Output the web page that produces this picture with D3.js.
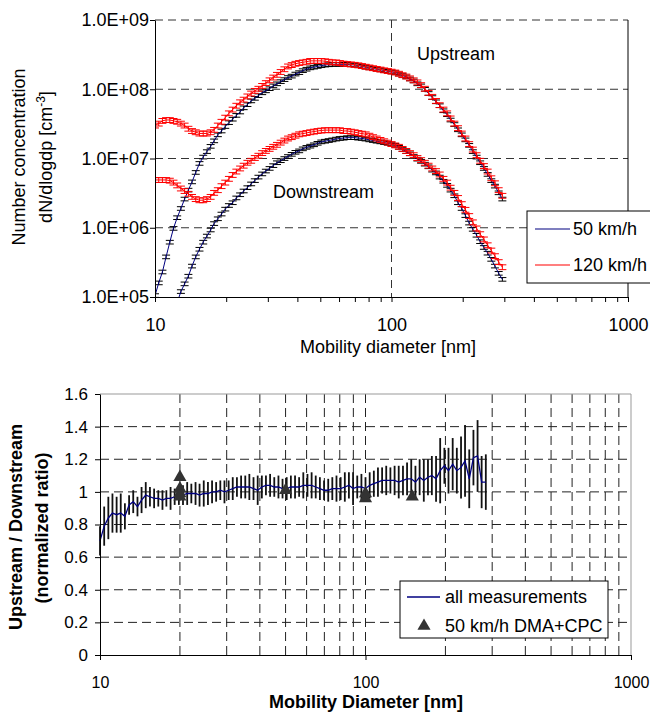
<!DOCTYPE html>
<html>
<head>
<meta charset="utf-8">
<script src="https://cdn.jsdelivr.net/npm/d3@7"></script>
<style>
  body { margin: 0; background: #fff; }
  svg { display: block; }
</style>
</head>
<body>
<div id="chart"></div>
<script>
// mobility diameters [nm], 64 channels per decade
var diameters = [
  10.0, 10.37, 10.75, 11.14, 11.55, 11.97, 12.41, 12.87, 13.34, 13.84,
  14.34, 14.87, 15.42, 15.99, 16.58, 17.19, 17.78, 18.44, 19.11, 19.82,
  20.54, 21.3, 22.08, 22.9, 23.71, 24.59, 25.5, 26.43, 27.38, 28.39,
  29.43, 30.52, 31.62, 32.79, 34.0, 35.25, 36.52, 37.86, 39.26, 40.7,
  42.17, 43.72, 45.33, 47.0, 48.7, 50.49, 52.35, 54.28, 56.23, 58.31,
  60.45, 62.67, 64.94, 67.33, 69.81, 72.38, 74.99, 77.75, 80.61, 83.58,
  86.6, 89.78, 93.09, 96.52, 100.0, 103.7, 107.5, 111.4, 115.5, 119.7,
  124.1, 128.7, 133.4, 138.4, 143.4, 148.7, 154.2, 159.9, 165.8, 171.9,
  177.8, 184.4, 191.1, 198.2, 205.4, 213.0, 220.8, 229.0, 237.1, 245.9,
  255.0, 264.3, 273.8, 283.9, 294.3
]

// dN/dlogdp [cm-3]
var up50 = [
  1.05e5, 1.6e5, 2.3e5, 3.8e5, 6.2e5, 9.8e5, 1.4e6, 1.9e6, 2.6e6, 3.5e6,
  4.6e6, 6.3e6, 8.5e6, 1.05e7, 1.26e7, 1.5e7, 1.8e7, 2.2e7, 2.5e7, 2.9e7,
  3.3e7, 3.7e7, 4.2e7, 4.7e7, 5.4e7, 6.0e7, 6.8e7, 7.4e7, 8.1e7, 8.9e7,
  9.5e7, 1.02e8, 1.12e8, 1.2e8, 1.29e8, 1.38e8, 1.48e8, 1.55e8, 1.66e8, 1.74e8,
  1.86e8, 1.95e8, 2.04e8, 2.09e8, 2.14e8, 2.19e8, 2.24e8, 2.26e8, 2.29e8, 2.29e8,
  2.29e8, 2.29e8, 2.29e8, 2.26e8, 2.24e8, 2.19e8, 2.14e8, 2.09e8, 2.04e8, 2.0e8,
  1.95e8, 1.91e8, 1.86e8, 1.82e8, 1.78e8, 1.74e8, 1.66e8, 1.58e8, 1.51e8, 1.41e8,
  1.32e8, 1.2e8, 1.12e8, 1.0e8, 8.7e7, 7.6e7, 6.6e7, 5.8e7, 4.9e7, 4.3e7,
  3.6e7, 3.1e7, 2.6e7, 2.2e7, 1.86e7, 1.55e7, 1.26e7, 1.05e7, 8.7e6, 7.2e6,
  5.9e6, 4.8e6, 4.0e6, 3.2e6, 2.6e6
]
var up120 = [
  3.0e7, 3.2e7, 3.5e7, 3.6e7, 3.6e7, 3.5e7, 3.4e7, 3.2e7, 3.0e7, 2.7e7,
  2.5e7, 2.4e7, 2.3e7, 2.3e7, 2.3e7, 2.4e7, 2.6e7, 3.0e7, 3.4e7, 3.9e7,
  4.5e7, 5.1e7, 5.8e7, 6.5e7, 7.1e7, 7.9e7, 8.7e7, 9.5e7, 1.02e8, 1.12e8,
  1.23e8, 1.35e8, 1.48e8, 1.62e8, 1.78e8, 1.95e8, 2.14e8, 2.24e8, 2.34e8, 2.4e8,
  2.45e8, 2.5e8, 2.57e8, 2.57e8, 2.57e8, 2.57e8, 2.54e8, 2.5e8, 2.45e8, 2.45e8,
  2.4e8, 2.35e8, 2.32e8, 2.29e8, 2.26e8, 2.22e8, 2.17e8, 2.12e8, 2.07e8, 2.02e8,
  1.97e8, 1.93e8, 1.88e8, 1.84e8, 1.8e8, 1.75e8, 1.68e8, 1.6e8, 1.53e8, 1.44e8,
  1.35e8, 1.26e8, 1.15e8, 1.02e8, 8.9e7, 7.8e7, 6.8e7, 5.9e7, 5.1e7, 4.5e7,
  3.8e7, 3.2e7, 2.75e7, 2.3e7, 1.95e7, 1.62e7, 1.35e7, 1.12e7, 9.3e6, 7.8e6,
  6.5e6, 5.2e6, 4.4e6, 3.5e6, 2.9e6
]
var down50 = [
  7.9e3, 1.3e4, 2.0e4, 2.8e4, 4.0e4, 5.6e4, 8.3e4, 1.2e5, 1.55e5, 2.0e5,
  2.8e5, 3.8e5, 4.9e5, 6.2e5, 7.6e5, 9.3e5, 1.15e6, 1.35e6, 1.58e6, 1.86e6,
  2.1e6, 2.3e6, 2.7e6, 3.0e6, 3.4e6, 3.8e6, 4.3e6, 4.8e6, 5.4e6, 6.0e6,
  6.6e6, 7.2e6, 7.9e6, 8.7e6, 9.3e6, 1.0e7, 1.07e7, 1.15e7, 1.23e7, 1.29e7,
  1.38e7, 1.45e7, 1.51e7, 1.58e7, 1.66e7, 1.74e7, 1.78e7, 1.82e7, 1.86e7, 1.91e7,
  1.95e7, 1.97e7, 2.0e7, 2.0e7, 2.0e7, 1.97e7, 1.95e7, 1.91e7, 1.86e7, 1.82e7,
  1.78e7, 1.74e7, 1.7e7, 1.66e7, 1.62e7, 1.55e7, 1.45e7, 1.35e7, 1.26e7, 1.17e7,
  1.07e7, 9.8e6, 9.1e6, 8.3e6, 7.6e6, 6.8e6, 6.2e6, 5.4e6, 4.7e6, 4.1e6,
  3.5e6, 2.9e6, 2.3e6, 1.9e6, 1.5e6, 1.17e6, 9.5e5, 7.8e5, 6.3e5, 5.2e5,
  4.3e5, 3.5e5, 2.8e5, 2.2e5, 1.8e5
]
var down120 = [
  4.9e6, 4.9e6, 4.9e6, 4.9e6, 4.8e6, 4.5e6, 4.1e6, 3.7e6, 3.4e6, 3.1e6,
  2.8e6, 2.6e6, 2.5e6, 2.5e6, 2.6e6, 2.8e6, 3.2e6, 3.5e6, 4.0e6, 4.5e6,
  5.1e6, 5.8e6, 6.5e6, 7.2e6, 7.9e6, 8.7e6, 9.3e6, 1.02e7, 1.1e7, 1.2e7,
  1.29e7, 1.38e7, 1.48e7, 1.58e7, 1.7e7, 1.82e7, 1.95e7, 2.04e7, 2.14e7, 2.24e7,
  2.29e7, 2.34e7, 2.4e7, 2.45e7, 2.5e7, 2.54e7, 2.57e7, 2.57e7, 2.57e7, 2.57e7,
  2.57e7, 2.5e7, 2.5e7, 2.45e7, 2.4e7, 2.34e7, 2.29e7, 2.24e7, 2.14e7, 2.04e7,
  1.95e7, 1.86e7, 1.78e7, 1.7e7, 1.62e7, 1.55e7, 1.48e7, 1.38e7, 1.29e7, 1.2e7,
  1.12e7, 1.02e7, 9.5e6, 8.7e6, 7.9e6, 7.2e6, 6.6e6, 5.9e6, 5.1e6, 4.5e6,
  3.8e6, 3.2e6, 2.7e6, 2.2e6, 1.82e6, 1.48e6, 1.2e6, 9.8e5, 8.1e5, 6.8e5,
  5.6e5, 4.7e5, 3.9e5, 3.2e5, 2.7e5
]
var relErr50 = 0.06, relErr120 = 0.08

// upstream / downstream ratio (same diameters, first 94 channels)
var ratio = [
  0.70, 0.79, 0.84, 0.87, 0.86, 0.87, 0.85, 0.92, 0.94, 0.91,
  0.95, 0.98, 0.97, 0.96, 0.96, 0.95, 0.96, 0.96, 0.97, 0.98,
  0.98, 0.99, 0.99, 0.99, 0.98, 0.99, 0.99, 1.00, 1.00, 1.01,
  1.00, 1.01, 1.02, 1.03, 1.03, 1.03, 1.03, 1.02, 1.01, 1.03,
  1.04, 1.04, 1.03, 1.03, 1.02, 1.02, 1.03, 1.03, 1.03, 1.04,
  1.04, 1.04, 1.03, 1.02, 1.01, 1.01, 1.02, 1.02, 1.02, 1.03,
  1.04, 1.02, 1.03, 1.03, 1.02, 1.04, 1.05, 1.06, 1.07, 1.07,
  1.07, 1.07, 1.06, 1.07, 1.08, 1.08, 1.06, 1.09, 1.07, 1.09,
  1.10, 1.08, 1.13, 1.16, 1.13, 1.17, 1.13, 1.15, 1.19, 1.08,
  1.21, 1.22, 1.06, 1.06
]
var ratioErr = [
  0.09, 0.12, 0.13, 0.12, 0.11, 0.12, 0.08, 0.06, 0.07, 0.06,
  0.08, 0.08, 0.06, 0.06, 0.05, 0.06, 0.05, 0.07, 0.05, 0.06,
  0.06, 0.07, 0.06, 0.07, 0.07, 0.08, 0.07, 0.07, 0.06, 0.06,
  0.07, 0.06, 0.07, 0.06, 0.07, 0.07, 0.08, 0.07, 0.09, 0.07,
  0.06, 0.07, 0.06, 0.07, 0.06, 0.07, 0.07, 0.07, 0.06, 0.08,
  0.07, 0.08, 0.07, 0.07, 0.06, 0.07, 0.07, 0.08, 0.07, 0.09,
  0.08, 0.10, 0.07, 0.08, 0.07, 0.08, 0.08, 0.09, 0.08, 0.09,
  0.08, 0.09, 0.10, 0.09, 0.10, 0.12, 0.10, 0.11, 0.13, 0.11,
  0.12, 0.14, 0.20, 0.11, 0.14, 0.16, 0.14, 0.19, 0.22, 0.18,
  0.17, 0.22, 0.16, 0.17
]

// 50 km/h DMA+CPC points
var dmaDiam = [20, 20, 20, 20, 50, 100, 100, 150]
var dmaRatio = [1.09, 1.02, 0.99, 0.97, 1.01, 0.99, 0.96, 0.97]

// ticks
var decadeTicks = [10, 100, 1000]
var decadeLabels = ['10', '100', '1000']
var minorTicks = [20, 30, 40, 50, 60, 70, 80, 90, 200, 300, 400, 500, 600, 700, 800, 900]
var topYTicks = [1e5, 1e6, 1e7, 1e8, 1e9]
var topYLabels = ['1.0E+05', '1.0E+06', '1.0E+07', '1.0E+08', '1.0E+09']
var botYTicks = [0, 0.2, 0.4, 0.6, 0.8, 1, 1.2, 1.4, 1.6]
var botYLabels = ['0', '0.2', '0.4', '0.6', '0.8', '1', '1.2', '1.4', '1.6']

var FONT = '"Liberation Sans", Arial, sans-serif'
var svg = d3.select('#chart').append('svg').attr('width', 650).attr('height', 713)
  .attr('font-family', FONT)

function styleAxis(sel, size){
  sel.attr('font-family', FONT).attr('font-size', size)
  sel.selectAll('text').attr('fill', '#000')
  sel.selectAll('line,path').attr('stroke', '#000')
}

//================ top panel
var T = {left: 155, top: 20, width: 473, height: 277}
var gT = svg.append('g').attr('transform', 'translate(' + T.left + ',' + T.top + ')')
var xT = d3.scaleLog().domain([10, 1000]).range([0, T.width])
var yT = d3.scaleLog().domain([1e5, 1e9]).range([T.height, 0])

// grid
gT.selectAll('line.hgrid').data(topYTicks.slice(1)).enter().append('line')
  .attr('x1', 0).attr('x2', T.width).attr('y1', yT).attr('y2', yT)
  .attr('stroke', '#333').attr('stroke-dasharray', '8,5')
gT.append('line').attr('x1', xT(100)).attr('x2', xT(100)).attr('y1', 0).attr('y2', T.height)
  .attr('stroke', '#333').attr('stroke-dasharray', '8,5')
gT.append('line').attr('x1', T.width).attr('x2', T.width).attr('y1', 0).attr('y2', T.height)
  .attr('stroke', '#000')

gT.append('clipPath').attr('id', 'clipTop').append('rect')
  .attr('x', 0).attr('y', 0).attr('width', T.width).attr('height', T.height)

var topSeries = [
  {values: up50, line: '#000080', bar: '#000', err: relErr50},
  {values: down50, line: '#000080', bar: '#000', err: relErr50},
  {values: up120, line: '#ff0000', bar: '#ff0000', err: relErr120},
  {values: down120, line: '#ff0000', bar: '#ff0000', err: relErr120}
]
var lineT = d3.line().x(d => xT(d.d)).y(d => yT(d.v))
var plotT = gT.append('g').attr('clip-path', 'url(#clipTop)')

topSeries.forEach(function(s){
  var pts = s.values.map((v, i) => ({d: diameters[i], v: v}))
  var eb = plotT.append('g').attr('stroke', s.bar).attr('stroke-width', 1)
  pts.forEach(function(p){
    var x = xT(p.d), y1 = yT(p.v * (1 - s.err)), y2 = yT(p.v * (1 + s.err))
    eb.append('line').attr('x1', x).attr('x2', x).attr('y1', y1).attr('y2', y2)
    eb.append('line').attr('x1', x - 4).attr('x2', x + 4).attr('y1', y1).attr('y2', y1)
    eb.append('line').attr('x1', x - 4).attr('x2', x + 4).attr('y1', y2).attr('y2', y2)
  })
  plotT.append('path').attr('d', lineT(pts)).attr('fill', 'none')
    .attr('stroke', s.line).attr('stroke-width', 1)
})

// axes
gT.append('g').attr('transform', 'translate(0,' + T.height + ')')
  .call(d3.axisBottom(xT).tickValues(minorTicks).tickSize(5).tickSizeOuter(0).tickFormat(''))
  .call(styleAxis, 18)
gT.append('g').attr('transform', 'translate(0,' + T.height + ')')
  .call(d3.axisBottom(xT).tickValues(decadeTicks).tickSize(5).tickSizeOuter(0).tickPadding(16)
    .tickFormat((d, i) => decadeLabels[i]))
  .call(styleAxis, 18)
gT.append('g')
  .call(d3.axisLeft(yT).tickValues(topYTicks).tickSize(5).tickSizeOuter(0).tickPadding(1)
    .tickFormat((d, i) => topYLabels[i]))
  .call(styleAxis, 18)

gT.append('text').attr('x', 262).attr('y', 40).attr('font-size', 18).text('Upstream')
gT.append('text').attr('x', 118).attr('y', 178).attr('font-size', 18).text('Downstream')

svg.append('text').attr('x', 388).attr('y', 353).attr('text-anchor', 'middle')
  .attr('font-size', 18).text('Mobility diameter [nm]')
svg.append('text').attr('transform', 'translate(25,157) rotate(-90)').attr('text-anchor', 'middle')
  .attr('font-size', 18).text('Number concentration')
var yt2 = svg.append('text').attr('transform', 'translate(52,157) rotate(-90)').attr('text-anchor', 'middle')
  .attr('font-size', 18)
yt2.append('tspan').text('dN/dlogdp [cm')
yt2.append('tspan').attr('dy', -7).attr('font-size', 12).text('-3')
yt2.append('tspan').attr('dy', 7).text(']')

// legend
var legT = svg.append('g')
legT.append('rect').attr('x', 527).attr('y', 211).attr('width', 140).attr('height', 72)
  .attr('fill', '#fff').attr('stroke', '#000')
var legItems = [{label: '50 km/h', color: '#000080'}, {label: '120 km/h', color: '#ff0000'}]
legItems.forEach(function(d, i){
  var y = 229 + i * 36
  legT.append('line').attr('x1', 535).attr('x2', 570).attr('y1', y).attr('y2', y)
    .attr('stroke', d.color).attr('stroke-width', 1.2)
  legT.append('text').attr('x', 573).attr('y', y + 6).attr('font-size', 18).text(d.label)
})

//================ bottom panel
var B = {left: 100, top: 394, width: 531, height: 261}
var gB = svg.append('g').attr('transform', 'translate(' + B.left + ',' + B.top + ')')
var xB = d3.scaleLog().domain([10, 1000]).range([0, B.width])
var yB = d3.scaleLinear().domain([0, 1.6]).range([B.height, 0])

gB.selectAll('line.vgrid').data(minorTicks.concat([100])).enter().append('line')
  .attr('x1', xB).attr('x2', xB).attr('y1', 0).attr('y2', B.height)
  .attr('stroke', '#222').attr('stroke-dasharray', '9,5')
gB.selectAll('line.hgrid').data(botYTicks.slice(1, -1)).enter().append('line')
  .attr('x1', 0).attr('x2', B.width).attr('y1', yB).attr('y2', yB)
  .attr('stroke', '#222').attr('stroke-dasharray', '9,5')
gB.append('path').attr('d', 'M0,0H' + B.width + 'V' + B.height)
  .attr('fill', 'none').attr('stroke', '#999')

var ratioPts = ratio.map((v, i) => ({d: diameters[i], v: v, e: ratioErr[i]}))
gB.append('g').selectAll('line').data(ratioPts).enter().append('line')
  .attr('x1', d => xB(d.d)).attr('x2', d => xB(d.d))
  .attr('y1', d => yB(d.v - d.e)).attr('y2', d => yB(d.v + d.e))
  .attr('stroke', '#111').attr('stroke-width', 1.8)
gB.append('path').attr('d', d3.line().x(d => xB(d.d)).y(d => yB(d.v))(ratioPts))
  .attr('fill', 'none').attr('stroke', '#000080').attr('stroke-width', 1.3)

var tri = d3.symbol().type(d3.symbolTriangle).size(75)
gB.append('g').selectAll('path').data(dmaDiam).enter().append('path')
  .attr('d', tri)
  .attr('transform', (d, i) => 'translate(' + xB(d) + ',' + yB(dmaRatio[i]) + ')')
  .attr('fill', '#333')

gB.append('g').attr('transform', 'translate(0,' + B.height + ')')
  .call(d3.axisBottom(xB).tickValues(decadeTicks).tickSize(5).tickSizeOuter(0).tickPadding(16.5)
    .tickFormat((d, i) => decadeLabels[i]))
  .call(styleAxis, 16)
gB.append('g')
  .call(d3.axisLeft(yB).tickValues(botYTicks).tickSize(5).tickSizeOuter(0).tickPadding(7)
    .tickFormat((d, i) => botYLabels[i]))
  .call(styleAxis, 17)

svg.append('text').attr('x', 366).attr('y', 708).attr('text-anchor', 'middle')
  .attr('font-size', 18).attr('font-weight', 'bold').text('Mobility Diameter [nm]')
svg.append('text').attr('transform', 'translate(22,527) rotate(-90)').attr('text-anchor', 'middle')
  .attr('font-size', 18).attr('font-weight', 'bold').text('Upstream / Downstream')
svg.append('text').attr('transform', 'translate(48,528) rotate(-90)').attr('text-anchor', 'middle')
  .attr('font-size', 18).attr('font-weight', 'bold').text('(normalized ratio)')

var legB = svg.append('g')
legB.append('rect').attr('x', 400).attr('y', 581).attr('width', 208).attr('height', 57)
  .attr('fill', '#fff').attr('stroke', '#000')
legB.append('line').attr('x1', 407).attr('x2', 440).attr('y1', 597).attr('y2', 597)
  .attr('stroke', '#000080').attr('stroke-width', 1.3)
legB.append('text').attr('x', 445).attr('y', 603).attr('font-size', 18).text('all measurements')
legB.append('path').attr('d', tri).attr('transform', 'translate(424,626)').attr('fill', '#333')
legB.append('text').attr('x', 445).attr('y', 632).attr('font-size', 18).text('50 km/h DMA+CPC')
</script>
</body>
</html>
